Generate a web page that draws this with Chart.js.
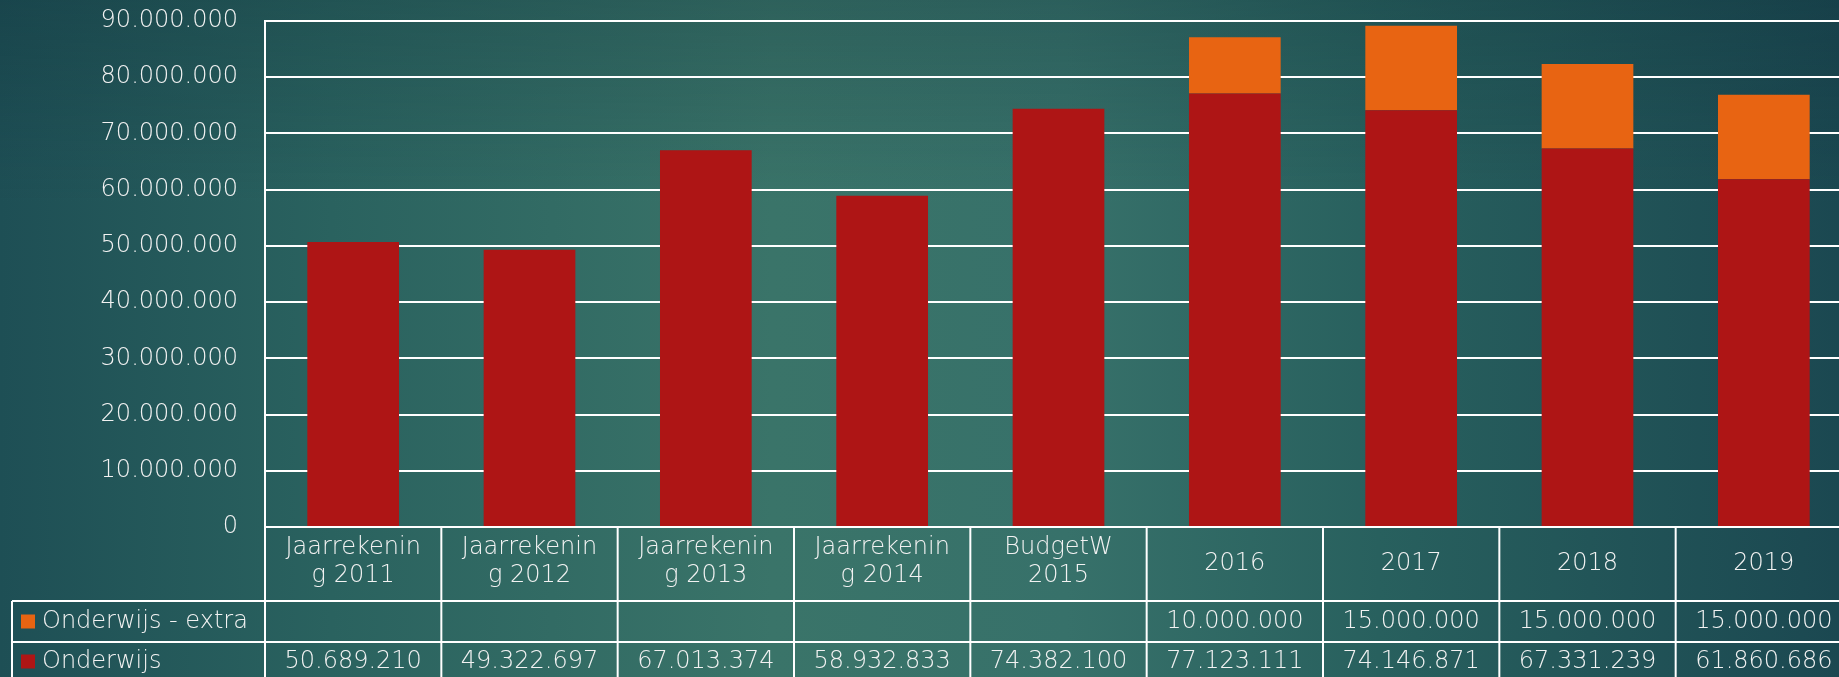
<!DOCTYPE html>
<html>
<head>
<meta charset="utf-8">
<script src="https://cdn.jsdelivr.net/npm/chart.js@4.4.1/dist/chart.umd.min.js"></script>
<style>
html, body { margin:0; padding:0; width:1839px; height:677px; overflow:hidden; }
body {
  background:
    linear-gradient(to bottom, rgba(10,40,50,0.25) 0%, rgba(10,40,50,0) 30%),
    linear-gradient(to right, #1e4f55 0%, #2a625f 18%, #3a7469 42%, #37716a 58%, #28605e 75%, #1b4851 100%);
}
#wrap { position:absolute; left:0; top:0; width:1860px; height:677px; }
</style>
</head>
<body>
<div id="wrap"><canvas id="c" width="1860" height="677"></canvas></div>
<script>
// ---- data ----
const categories = [
  ['Jaarrekenin', 'g 2011'],
  ['Jaarrekenin', 'g 2012'],
  ['Jaarrekenin', 'g 2013'],
  ['Jaarrekenin', 'g 2014'],
  ['BudgetW', '2015'],
  ['2016'],
  ['2017'],
  ['2018'],
  ['2019']
];
const onderwijs = [50689210, 49322697, 67013374, 58932833, 74382100, 77123111, 74146871, 67331239, 61860686];
const onderwijsExtra = [null, null, null, null, null, 10000000, 15000000, 15000000, 15000000];
const seriesNames = ['Onderwijs', 'Onderwijs - extra'];
const yMin = 0, yMax = 90000000, yStep = 10000000;

// ---- styling ----
const FONT = '"DejaVu Sans", sans-serif';
const FONT_WEIGHT = 200;
const FONT_SIZE = 24;
const TEXT = '#f2f2f2';
const RED = '#ae1515';
const ORANGE = '#e86412';

function fmt(v) {
  return String(v).replace(/\B(?=(\d{3})+(?!\d))/g, '.');
}

const tablePlugin = {
  id: 'dataTable',
  afterDraw(chart) {
    const ctx = chart.ctx;
    const xs = chart.scales.x;
    const a = chart.chartArea;
    const n = categories.length;
    const colW = (xs.getPixelForValue(n - 1) - xs.getPixelForValue(0)) / (n - 1);
    const top = a.bottom;
    const r1 = top + 74;
    const r2 = r1 + 41;
    const r3 = chart.height + 4;
    const W = chart.width;
    ctx.save();
    ctx.strokeStyle = '#ffffff';
    ctx.lineWidth = 2;
    const line = (x1, y1, x2, y2) => { ctx.beginPath(); ctx.moveTo(x1, y1); ctx.lineTo(x2, y2); ctx.stroke(); };
    line(a.left, top, W, top);
    line(12, r1, W, r1);
    line(12, r2, W, r2);
    line(12, r1, 12, r3);
    for (let i = 0; i <= n; i++) {
      const xb = xs.getPixelForValue(0) - colW / 2 + i * colW;
      line(xb, top, xb, r3);
    }
    ctx.fillStyle = TEXT;
    ctx.font = FONT_WEIGHT + ' ' + FONT_SIZE + 'px ' + FONT;
    ctx.textAlign = 'center';
    ctx.textBaseline = 'middle';
    // category row
    for (let i = 0; i < n; i++) {
      const cx = xs.getPixelForValue(i);
      const lbl = categories[i];
      if (lbl.length === 2) {
        ctx.fillText(lbl[0], cx, top + 21);
        ctx.fillText(lbl[1], cx, top + 49);
      } else {
        ctx.fillText(lbl[0], cx, top + 37);
      }
    }
    // series rows
    const rows = [
      { name: seriesNames[1], color: ORANGE, data: onderwijsExtra, y: (r1 + r2) / 2 },
      { name: seriesNames[0], color: RED, data: onderwijs, y: (r2 + chart.height) / 2 + 2 }
    ];
    rows.forEach(row => {
      ctx.fillStyle = row.color;
      ctx.fillRect(21, row.y - 7, 14, 14);
      ctx.fillStyle = TEXT;
      ctx.textAlign = 'left';
      ctx.fillText(row.name, 42, row.y);
      ctx.textAlign = 'center';
      for (let i = 0; i < n; i++) {
        const v = row.data[i];
        if (v !== null && v !== undefined) ctx.fillText(fmt(v), xs.getPixelForValue(i), row.y);
      }
    });
    ctx.restore();
  }
};

new Chart(document.getElementById('c'), {
  type: 'bar',
  data: {
    labels: categories,
    datasets: [
      { label: seriesNames[0], data: onderwijs, backgroundColor: RED, stack: 's' },
      { label: seriesNames[1], data: onderwijsExtra, backgroundColor: ORANGE, stack: 's' }
    ]
  },
  options: {
    responsive: false,
    animation: false,
    layout: { padding: { top: 21, bottom: 150, left: 0, right: 8 } },
    datasets: { bar: { categoryPercentage: 1, barPercentage: 0.52 } },
    plugins: { legend: { display: false }, tooltip: { enabled: false } },
    scales: {
      x: {
        stacked: true,
        display: false,
        offset: true
      },
      y: {
        stacked: true,
        min: yMin,
        max: yMax,
        ticks: {
          stepSize: yStep,
          color: TEXT,
          font: { family: FONT, size: FONT_SIZE, weight: FONT_WEIGHT },
          padding: 27,
          callback: v => fmt(v)
        },
        grid: { color: '#ffffff', lineWidth: 2, drawTicks: false },
        border: { color: '#ffffff', width: 2 },
        afterFit(scale) { scale.width = 265; scale.paddingTop = 0; scale.paddingBottom = 0; }
      }
    }
  },
  plugins: [tablePlugin]
});
</script>
</body>
</html>
